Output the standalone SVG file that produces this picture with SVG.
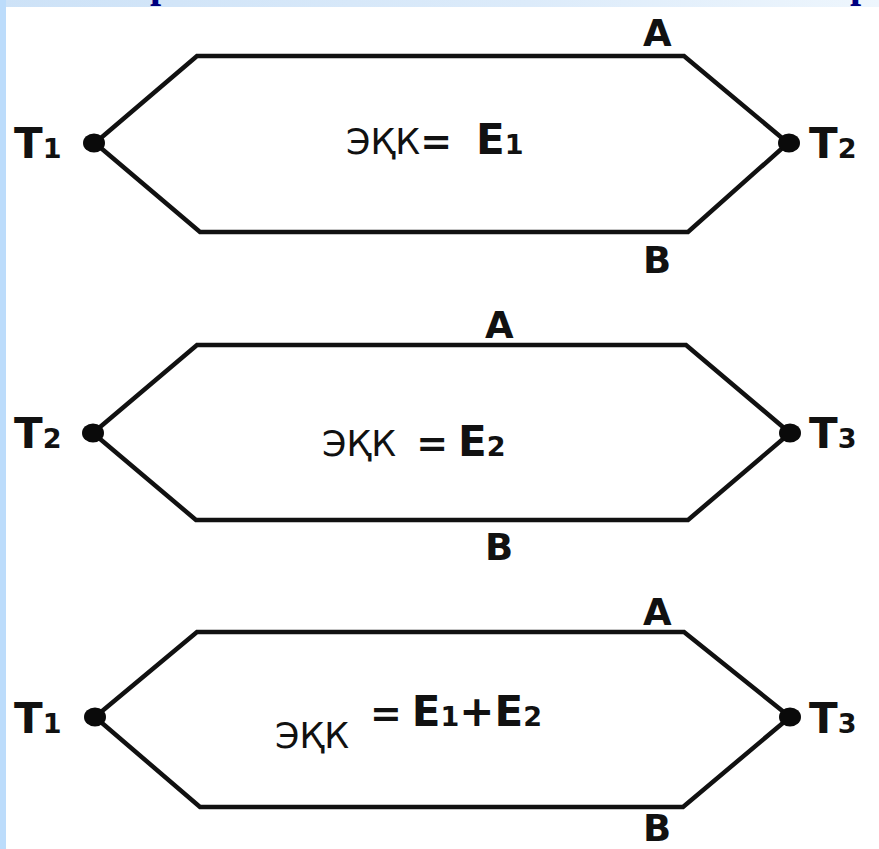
<svg xmlns="http://www.w3.org/2000/svg" width="879" height="849" viewBox="0 0 879 849">
  <style>
    .wire { fill: none; stroke: #111; stroke-width: 4.5; stroke-linejoin: miter; }
    .dot { fill: #0a0a0a; }
    .lbl { font-family: "DejaVu Sans", Verdana, sans-serif; font-weight: bold; fill: #111; }
    .big { font-size: 42px; }
    .sub { font-size: 27px; }
    .wl { font-size: 37px; }
    .emf { font-family: "DejaVu Sans", Verdana, sans-serif; font-size: 35px; fill: #111; }
    .eq { font-family: "DejaVu Sans", Verdana, sans-serif; font-weight: bold; font-size: 38px; fill: #111; }
    .ttl { font-family: "Liberation Serif", "Times New Roman", serif; font-weight: bold; font-size: 40px; fill: #000080; }
  </style>
  <defs>
    <linearGradient id="band" x1="0" y1="0" x2="1" y2="0">
      <stop offset="0" stop-color="#cde2f7"/>
      <stop offset="0.6" stop-color="#dcebfa"/>
      <stop offset="1" stop-color="#eef6fd"/>
    </linearGradient>
    <clipPath id="bandClip"><rect x="0" y="0" width="879" height="7"/></clipPath>
  </defs>

  <!-- page background and frame strips -->
  <rect x="0" y="0" width="879" height="849" fill="#ffffff"/>
  <rect x="0" y="0" width="879" height="7" fill="url(#band)"/>
  <rect x="0" y="0" width="6" height="849" fill="#bcdcfb"/>
  <g id="title" clip-path="url(#bandClip)">
    <text class="ttl" x="150" y="-3">р</text>
    <text class="ttl" x="850" y="-3">р</text>
  </g>

  <!-- conductors A (top) and B (bottom) of each thermocouple loop -->
  <g id="connectors">
    <polyline class="wire" points="95,143 197,56 684,56 788,143"/>
    <polyline class="wire" points="95,143 200,232 688,232 788,143"/>
    <polyline class="wire" points="93,433 197,345 686,345 790,433"/>
    <polyline class="wire" points="93,433 196,520 688,520 790,433"/>
    <polyline class="wire" points="95,717 197,632 684,632 790,717"/>
    <polyline class="wire" points="95,717 200,807 683,807 790,717"/>
  </g>

  <!-- circuit 1: T1 / T2 -->
  <g id="j1-left">
    <ellipse class="dot" cx="94" cy="143" rx="11" ry="9.5"/>
    <text class="lbl" x="14" y="158"><tspan class="big">T</tspan><tspan class="sub">1</tspan></text>
  </g>
  <g id="j1-right">
    <ellipse class="dot" cx="789" cy="143" rx="11" ry="9.5"/>
    <text class="lbl" x="809" y="158"><tspan class="big">T</tspan><tspan class="sub">2</tspan></text>
  </g>
  <g id="c1-labels">
    <text class="lbl wl" x="643" y="46">A</text>
    <text class="lbl wl" x="643" y="273">B</text>
  </g>
  <g id="c1-emf">
    <text x="346" y="154"><tspan class="emf">ЭҚК</tspan><tspan class="eq">=</tspan><tspan class="lbl big" dx="24">E</tspan><tspan class="sub lbl">1</tspan></text>
  </g>

  <!-- circuit 2: T2 / T3 -->
  <g id="j2-left">
    <ellipse class="dot" cx="93" cy="433" rx="11" ry="9.5"/>
    <text class="lbl" x="14" y="448"><tspan class="big">T</tspan><tspan class="sub">2</tspan></text>
  </g>
  <g id="j2-right">
    <ellipse class="dot" cx="790" cy="433" rx="11" ry="9.5"/>
    <text class="lbl" x="809" y="448"><tspan class="big">T</tspan><tspan class="sub">3</tspan></text>
  </g>
  <g id="c2-labels">
    <text class="lbl wl" x="485" y="338">A</text>
    <text class="lbl wl" x="485" y="560">B</text>
  </g>
  <g id="c2-emf">
    <text x="322" y="456"><tspan class="emf">ЭҚК</tspan><tspan class="eq" dx="20">=</tspan><tspan class="lbl big" dx="10">E</tspan><tspan class="lbl sub">2</tspan></text>
  </g>

  <!-- circuit 3: T1 / T3 -->
  <g id="j3-left">
    <ellipse class="dot" cx="95" cy="717" rx="11" ry="9.5"/>
    <text class="lbl" x="14" y="733"><tspan class="big">T</tspan><tspan class="sub">1</tspan></text>
  </g>
  <g id="j3-right">
    <ellipse class="dot" cx="790" cy="717" rx="11" ry="9.5"/>
    <text class="lbl" x="809" y="733"><tspan class="big">T</tspan><tspan class="sub">3</tspan></text>
  </g>
  <g id="c3-labels">
    <text class="lbl wl" x="643" y="625">A</text>
    <text class="lbl wl" x="643" y="841">B</text>
  </g>
  <g id="c3-emf">
    <text class="emf" x="275" y="748">ЭҚК</text>
    <text x="370" y="726"><tspan class="eq">=</tspan><tspan class="lbl big" dx="10">E</tspan><tspan class="lbl sub">1</tspan><tspan class="lbl big">+E</tspan><tspan class="lbl sub">2</tspan></text>
  </g>
</svg>
